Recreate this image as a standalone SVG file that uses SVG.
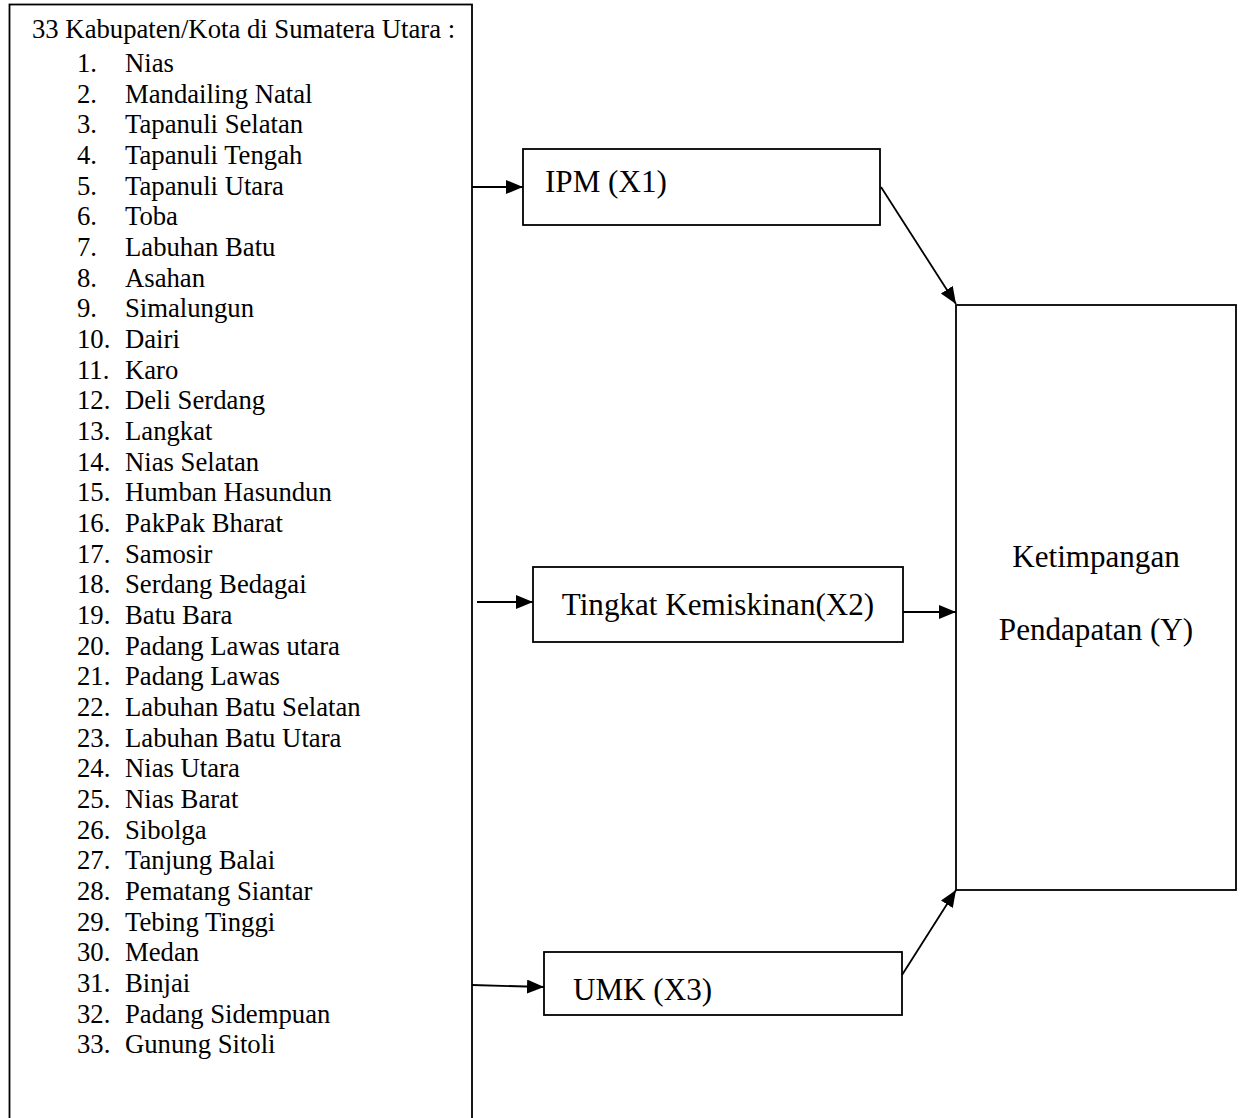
<svg xmlns="http://www.w3.org/2000/svg" width="1245" height="1118" viewBox="0 0 1245 1118">
<style>
.box{fill:#fff;stroke:#000;stroke-width:1.8}
.t{font-family:"Liberation Serif","Times New Roman",serif;fill:#000}
.s{font-size:26.7px}
.l{font-size:31.1px}
.c{stroke:#000;stroke-width:1.8;fill:none;marker-end:url(#ah)}
</style>
<defs>
<marker id="ah" markerUnits="userSpaceOnUse" markerWidth="20" markerHeight="16" refX="17" refY="7" orient="auto">
<path d="M0,0 L17,7 L0,14 z" fill="#000"/>
</marker>
</defs>
<rect width="1245" height="1118" fill="#fff"/>
<g id="node-list">
<rect class="box" x="9.5" y="4.5" width="462.5" height="1200"/>
<text class="t s" x="32" y="38">33 Kabupaten/Kota di Sumatera Utara :</text>
<g class="t s">
<text x="77" y="72">1.</text><text x="125" y="72">Nias</text>
<text x="77" y="102.7">2.</text><text x="125" y="102.7">Mandailing Natal</text>
<text x="77" y="133.3">3.</text><text x="125" y="133.3">Tapanuli Selatan</text>
<text x="77" y="164">4.</text><text x="125" y="164">Tapanuli Tengah</text>
<text x="77" y="194.6">5.</text><text x="125" y="194.6">Tapanuli Utara</text>
<text x="77" y="225.3">6.</text><text x="125" y="225.3">Toba</text>
<text x="77" y="256">7.</text><text x="125" y="256">Labuhan Batu</text>
<text x="77" y="286.6">8.</text><text x="125" y="286.6">Asahan</text>
<text x="77" y="317.3">9.</text><text x="125" y="317.3">Simalungun</text>
<text x="77" y="347.9">10.</text><text x="125" y="347.9">Dairi</text>
<text x="77" y="378.6">11.</text><text x="125" y="378.6">Karo</text>
<text x="77" y="409.3">12.</text><text x="125" y="409.3">Deli Serdang</text>
<text x="77" y="439.9">13.</text><text x="125" y="439.9">Langkat</text>
<text x="77" y="470.6">14.</text><text x="125" y="470.6">Nias Selatan</text>
<text x="77" y="501.2">15.</text><text x="125" y="501.2">Humban Hasundun</text>
<text x="77" y="531.9">16.</text><text x="125" y="531.9">PakPak Bharat</text>
<text x="77" y="562.6">17.</text><text x="125" y="562.6">Samosir</text>
<text x="77" y="593.2">18.</text><text x="125" y="593.2">Serdang Bedagai</text>
<text x="77" y="623.9">19.</text><text x="125" y="623.9">Batu Bara</text>
<text x="77" y="654.5">20.</text><text x="125" y="654.5">Padang Lawas utara</text>
<text x="77" y="685.2">21.</text><text x="125" y="685.2">Padang Lawas</text>
<text x="77" y="715.9">22.</text><text x="125" y="715.9">Labuhan Batu Selatan</text>
<text x="77" y="746.5">23.</text><text x="125" y="746.5">Labuhan Batu Utara</text>
<text x="77" y="777.2">24.</text><text x="125" y="777.2">Nias Utara</text>
<text x="77" y="807.8">25.</text><text x="125" y="807.8">Nias Barat</text>
<text x="77" y="838.5">26.</text><text x="125" y="838.5">Sibolga</text>
<text x="77" y="869.2">27.</text><text x="125" y="869.2">Tanjung Balai</text>
<text x="77" y="899.8">28.</text><text x="125" y="899.8">Pematang Siantar</text>
<text x="77" y="930.5">29.</text><text x="125" y="930.5">Tebing Tinggi</text>
<text x="77" y="961.1">30.</text><text x="125" y="961.1">Medan</text>
<text x="77" y="991.8">31.</text><text x="125" y="991.8">Binjai</text>
<text x="77" y="1022.5">32.</text><text x="125" y="1022.5">Padang Sidempuan</text>
<text x="77" y="1053.1">33.</text><text x="125" y="1053.1">Gunung Sitoli</text>
</g>
</g>
<g id="node-x1">
<rect class="box" x="523" y="149" width="357" height="76"/>
<text class="t l" x="545" y="192">IPM (X1)</text>
</g>
<g id="node-x2">
<rect class="box" x="533" y="567" width="370" height="75"/>
<text class="t l" x="718" y="615" text-anchor="middle">Tingkat Kemiskinan(X2)</text>
</g>
<g id="node-x3">
<rect class="box" x="544" y="952" width="358" height="63"/>
<text class="t l" x="573" y="1000">UMK (X3)</text>
</g>
<g id="node-y">
<rect class="box" x="956" y="305" width="280" height="585"/>
<text class="t l" x="1096" y="566.5" text-anchor="middle">Ketimpangan</text>
<text class="t l" x="1096" y="640" text-anchor="middle">Pendapatan (Y)</text>
</g>
<g id="connectors">
<line class="c" x1="472" y1="187" x2="523" y2="187"/>
<line class="c" x1="881" y1="187" x2="956" y2="304"/>
<line class="c" x1="477" y1="602" x2="533" y2="602"/>
<line class="c" x1="903" y1="612" x2="956" y2="612"/>
<line class="c" x1="472" y1="985" x2="544" y2="987"/>
<line class="c" x1="902" y1="975" x2="956" y2="890"/>
</g>
</svg>
